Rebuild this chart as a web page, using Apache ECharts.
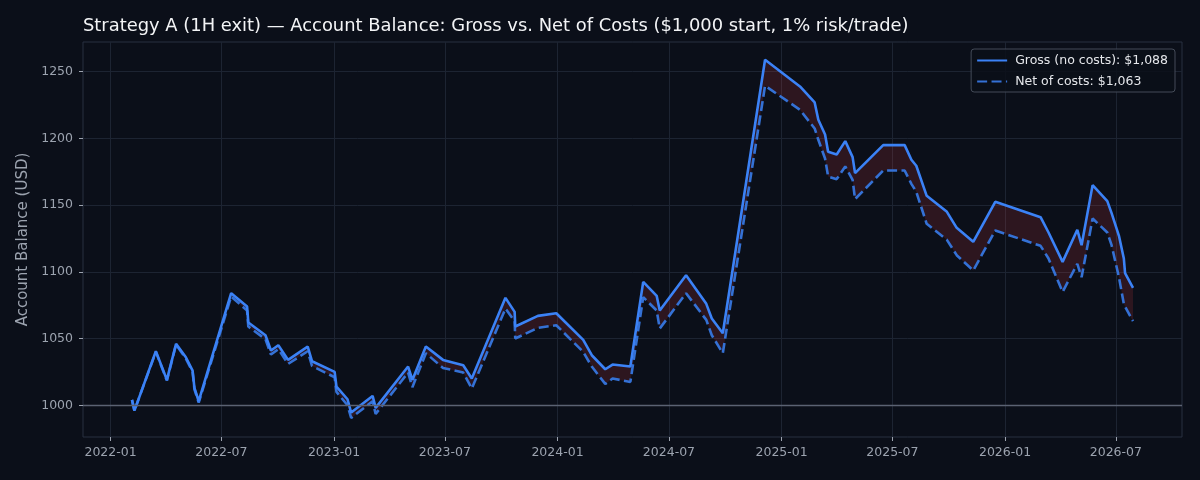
<!DOCTYPE html>
<html>
<head>
<meta charset="utf-8">
<title>Strategy A account balance</title>
<script src="https://cdn.jsdelivr.net/npm/echarts@6.0.0/dist/echarts.min.js"></script>
<style>
  html, body { margin: 0; padding: 0; background: #0b0f19; }
  #chart { width: 1200px; height: 480px; }
</style>
</head>
<body>
<div id="chart"></div>
<script>
// trade exit dates and account balance after each trade
var dates = [
  '2022-02-05', '2022-02-09', '2022-03-16', '2022-04-03', '2022-04-18', '2022-05-04',
  '2022-05-15', '2022-05-18', '2022-05-25', '2022-07-17', '2022-08-12', '2022-08-14',
  '2022-09-11', '2022-09-20', '2022-10-02', '2022-10-18', '2022-11-19', '2022-11-26',
  '2023-01-02', '2023-01-05', '2023-01-23', '2023-01-29', '2023-03-05', '2023-03-10',
  '2023-05-02', '2023-05-09', '2023-05-31', '2023-06-28', '2023-07-31', '2023-08-14',
  '2023-10-08', '2023-10-23', '2023-10-24', '2023-11-30', '2023-12-30', '2024-02-12',
  '2024-02-26', '2024-03-19', '2024-03-31', '2024-04-29', '2024-05-20', '2024-06-11',
  '2024-06-16', '2024-07-29', '2024-08-31', '2024-09-09', '2024-09-27', '2024-12-05',
  '2025-01-31', '2025-02-24', '2025-03-02', '2025-03-13', '2025-03-18', '2025-04-01',
  '2025-04-15', '2025-04-27', '2025-05-01', '2025-06-16', '2025-07-21', '2025-08-01',
  '2025-08-09', '2025-08-26', '2025-09-28', '2025-10-14', '2025-11-10', '2025-12-16',
  '2026-02-28', '2026-03-13', '2026-04-05', '2026-04-29', '2026-05-06', '2026-05-24',
  '2026-06-17', '2026-06-24', '2026-07-06', '2026-07-14', '2026-07-16', '2026-07-29'
];
var gross = [
  1004, 996, 1040.5, 1019, 1046, 1036,
  1026, 1013, 1003, 1084, 1074, 1062,
  1052.5, 1041, 1045, 1034, 1044, 1033,
  1025, 1014, 1004.5, 994.5, 1007, 998,
  1029, 1019, 1044, 1034, 1030, 1020,
  1080.5, 1070, 1059, 1067, 1069, 1049,
  1037.5, 1027, 1030.5, 1029, 1092.5, 1082,
  1071, 1097.5, 1076, 1065, 1054, 1259,
  1239, 1227, 1214, 1203, 1190, 1188,
  1198, 1186, 1174, 1195, 1195, 1184,
  1179.5, 1157, 1145, 1133, 1122.5, 1152.5,
  1141, 1129.5, 1107.5, 1131.5, 1120, 1165,
  1153, 1144, 1127, 1110, 1099, 1088
];
var net = [
  1004, 996, 1040, 1018.5, 1045.5, 1035,
  1025, 1012, 1002, 1081.5, 1071, 1059,
  1049.5, 1038, 1042, 1031, 1040.5, 1029.5,
  1021, 1010, 1000, 990.5, 1003, 993.5,
  1024.5, 1013.5, 1039, 1028, 1024.5, 1012.5,
  1072.5, 1063, 1050, 1058, 1060, 1040,
  1029, 1016, 1020, 1017.5, 1081, 1071,
  1057.5, 1084, 1064, 1052.5, 1039, 1239.5,
  1221.5, 1207.5, 1199, 1185, 1171.5, 1169.5,
  1179, 1169, 1154.5, 1176, 1176, 1166,
  1160, 1136, 1124, 1112.5, 1101, 1131,
  1119.5, 1110, 1085, 1106, 1096, 1140,
  1129.5, 1120, 1096, 1076, 1074, 1063
];
var xTicks = ['2022-01-01', '2022-07-01', '2023-01-01', '2023-07-01', '2024-01-01',
  '2024-07-01', '2025-01-01', '2025-07-01', '2026-01-01', '2026-07-01'];
var yTicks = [1000, 1050, 1100, 1150, 1200, 1250];
var startBalance = 1000;

var font = 'DejaVu Sans';
var grey = '#9ca3af';
var gridCol = '#1d2432';

function ts(s) { return Date.parse(s + 'T00:00:00Z'); }

function pairs(vals) {
  var out = [];
  for (var i = 0; i < dates.length; i++) out.push([ts(dates[i]), vals[i]]);
  return out;
}
var gap = [];
for (var i = 0; i < gross.length; i++) gap.push(+(gross[i] - net[i]).toFixed(2));
var xTickVals = xTicks.map(ts);
var xMin = ts('2021-11-17'), xMax = ts('2026-10-17');

function fmtMoney(v) {
  return '$' + Math.round(v).toLocaleString('en-US');
}
var grossName = 'Gross (no costs): ' + fmtMoney(gross[gross.length - 1]);
var netName = 'Net of costs: ' + fmtMoney(net[net.length - 1]);

var chart = echarts.init(document.getElementById('chart'));

chart.setOption({
  backgroundColor: '#0b0f19',
  animation: false,
  textStyle: { fontFamily: font },
  title: {
    text: 'Strategy A (1H exit) \u2014 Account Balance: Gross vs. Net of Costs ($1,000 start, 1% risk/trade)',
    left: 78,
    top: 12,
    textStyle: { color: '#f3f4f6', fontSize: 17.9, fontWeight: 'normal', fontFamily: font }
  },
  grid: {
    left: 83, right: 18, top: 42, bottom: 43,
    show: true, borderColor: '#283040', borderWidth: 1,
    backgroundColor: '#0b0f19'
  },
  legend: {
    right: 25, top: 49,
    orient: 'vertical',
    data: [grossName, netName],
    itemWidth: 30, itemHeight: 14, itemGap: 8,
    padding: [5, 7, 4, 5],
    itemStyle: { opacity: 0 },
    backgroundColor: 'rgba(11,15,25,0.85)',
    borderColor: '#444b58', borderWidth: 1, borderRadius: 3,
    textStyle: { color: '#e5e7eb', fontSize: 12.5, fontFamily: font, padding: [0, 0, 0, 3] }
  },
  xAxis: [
    {
      type: 'value',
      min: xMin,
      max: xMax,
      axisLine: { show: false },
      axisTick: { show: true, length: 4, lineStyle: { color: grey }, customValues: xTickVals },
      axisLabel: {
        color: grey, fontSize: 12.5, fontFamily: font, margin: 9,
        customValues: xTickVals,
        formatter: function (v) {
          var d = new Date(v);
          var m = d.getUTCMonth() + 1;
          return d.getUTCFullYear() + '-' + (m < 10 ? '0' + m : m);
        }
      },
      splitLine: { show: true, lineStyle: { color: gridCol, width: 1 } }
    },
    {
      // hidden time axis so the cost band can stack by index
      type: 'time',
      min: xMin,
      max: xMax,
      show: false,
      splitLine: { show: false }
    }
  ],
  yAxis: {
    type: 'value',
    min: 976.2,
    max: 1272.3,
    name: 'Account Balance (USD)',
    nameLocation: 'middle',
    nameGap: 48,
    nameTextStyle: { color: grey, fontSize: 15, fontFamily: font },
    axisLine: { show: false },
    axisTick: { show: true, length: 4, lineStyle: { color: grey }, customValues: yTicks },
    axisLabel: {
      color: grey, fontSize: 12.5, fontFamily: font, margin: 10, customValues: yTicks,
      formatter: function (v) { return String(v); }
    },
    splitLine: { show: true, lineStyle: { color: gridCol, width: 1 } }
  },
  series: [
    {
      name: 'base',
      type: 'line',
      xAxisIndex: 1,
      stack: 'band',
      data: pairs(net),
      symbol: 'none',
      lineStyle: { opacity: 0 },
      silent: true,
      z: 1
    },
    {
      name: 'band',
      type: 'line',
      xAxisIndex: 1,
      stack: 'band',
      data: pairs(gap),
      symbol: 'none',
      lineStyle: { opacity: 0 },
      areaStyle: { color: 'rgba(239,68,68,0.15)', opacity: 1 },
      silent: true,
      z: 1
    },
    {
      name: netName,
      type: 'line',
      data: pairs(net),
      symbol: 'none',
      lineStyle: { color: '#3471d5', width: 2.6, type: [10, 4.4] },
      itemStyle: { color: '#3471d5' },
      z: 3
    },
    {
      name: grossName,
      type: 'line',
      data: pairs(gross),
      symbol: 'none',
      lineStyle: { color: '#3b82f6', width: 2.6 },
      itemStyle: { color: '#3b82f6' },
      z: 4,
      markLine: {
        silent: true,
        symbol: 'none',
        label: { show: false },
        lineStyle: { color: '#5b6272', width: 1.3, type: 'solid' },
        data: [{ yAxis: startBalance }]
      }
    }
  ]
});
</script>
</body>
</html>
